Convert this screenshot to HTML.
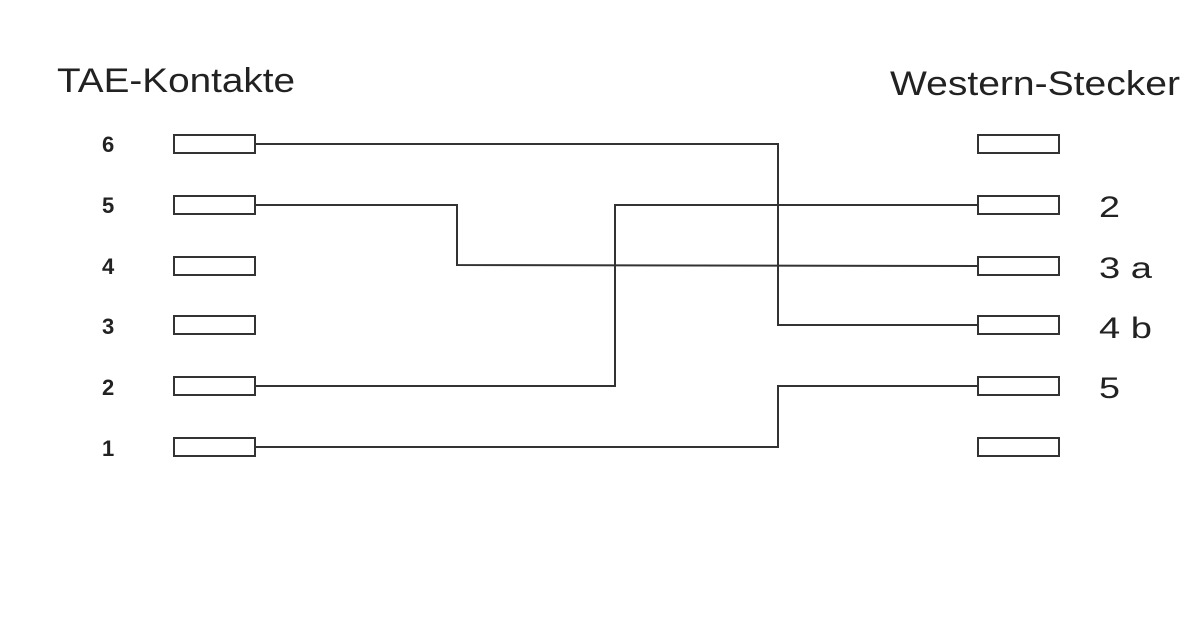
<!DOCTYPE html>
<html><head><meta charset="utf-8"><style>
body{margin:0;background:#fff}
svg{display:block}
text{font-family:"Liberation Sans",sans-serif;fill:#222}
</style></head><body>
<svg width="1200" height="630" viewBox="0 0 1200 630">
<rect width="1200" height="630" fill="#fff"/>
<text x="57" y="92" font-size="34" textLength="238" lengthAdjust="spacingAndGlyphs">TAE-Kontakte</text>
<text x="890" y="95" font-size="34" textLength="290" lengthAdjust="spacingAndGlyphs">Western-Stecker</text>
<g font-size="22" font-weight="bold">
<text x="102" y="152">6</text><text x="102" y="213">5</text><text x="102" y="274">4</text>
<text x="102" y="334">3</text><text x="102" y="395">2</text><text x="102" y="456">1</text>
</g>
<g font-size="30">
<text x="1099" y="217" textLength="21" lengthAdjust="spacingAndGlyphs">2</text>
<text x="1099" y="278" textLength="53" lengthAdjust="spacingAndGlyphs">3 a</text>
<text x="1099" y="338" textLength="53" lengthAdjust="spacingAndGlyphs">4 b</text>
<text x="1099" y="398" textLength="21" lengthAdjust="spacingAndGlyphs">5</text>
</g>
<g fill="#fff" stroke="#333" stroke-width="2">
<rect x="174" y="135" width="81" height="18"/><rect x="174" y="196" width="81" height="18"/>
<rect x="174" y="257" width="81" height="18"/><rect x="174" y="316" width="81" height="18"/>
<rect x="174" y="377" width="81" height="18"/><rect x="174" y="438" width="81" height="18"/>
<rect x="978" y="135" width="81" height="18"/><rect x="978" y="196" width="81" height="18"/>
<rect x="978" y="257" width="81" height="18"/><rect x="978" y="316" width="81" height="18"/>
<rect x="978" y="377" width="81" height="18"/><rect x="978" y="438" width="81" height="18"/>
</g>
<g fill="none" stroke="#333" stroke-width="2">
<polyline points="255,144 778,144 778,325 978,325"/>
<polyline points="255,205 457,205 457,265 978,266"/>
<polyline points="255,386 615,386 615,205 978,205"/>
<polyline points="255,447 778,447 778,386 978,386"/>
</g>
</svg>
</body></html>
